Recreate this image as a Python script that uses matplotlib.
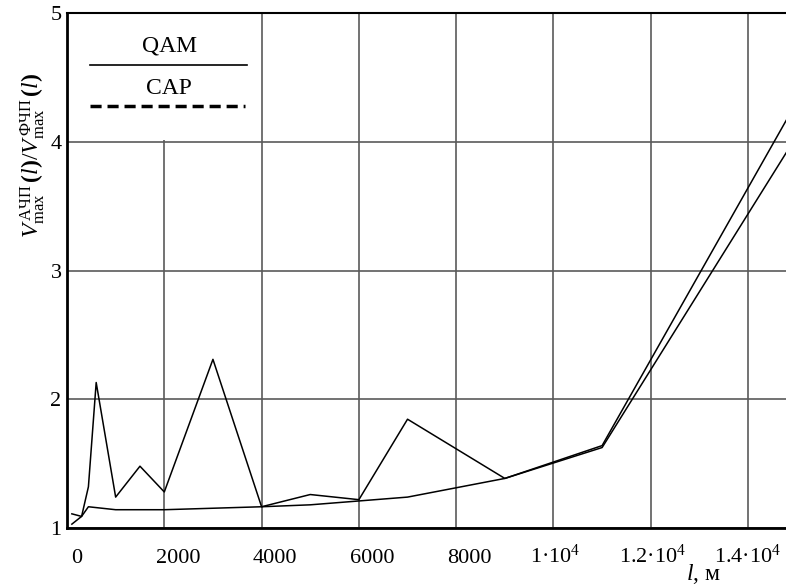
import numpy as np
import matplotlib
matplotlib.use("Agg")
import matplotlib.pyplot as plt
from matplotlib.patches import Rectangle
from matplotlib import transforms

plt.rcParams['font.family'] = ['Liberation Serif', 'DejaVu Serif']
plt.rcParams['mathtext.fontset'] = 'custom'
plt.rcParams['mathtext.rm'] = 'Liberation Serif'
plt.rcParams['mathtext.it'] = 'Liberation Serif:italic'
plt.rcParams['mathtext.bf'] = 'Liberation Serif:bold'

# data (l in metres)
l_qam = [100, 300, 440, 600, 1000, 1500, 2000, 3000, 4000, 5000, 6000, 7000, 9000, 11000, 15000]
r_qam = [1.03, 1.09, 1.32, 2.13, 1.24, 1.48, 1.28, 2.31, 1.165, 1.26, 1.22, 1.845, 1.385, 1.64, 4.31]

l_cap = [100, 300, 440, 1000, 2000, 4000, 5000, 6000, 7000, 9000, 11000, 15000]
r_cap = [1.11, 1.09, 1.165, 1.142, 1.142, 1.165, 1.18, 1.21, 1.24, 1.385, 1.625, 4.045]

x_ticks = [0, 2000, 4000, 6000, 8000, 10000, 12000, 14000]
x_labels = ['0', '2000', '4000', '6000', '8000',
            '1·10$^{4}$', '1.2·10$^{4}$', '1.4·10$^{4}$']
x_label_shift = [10, 14, 13, 13, 13, 2, 2, 0]   # px, Mathcad-style offsets
y_ticks = [1, 2, 3, 4, 5]

fig = plt.figure(figsize=(7.86, 5.85), dpi=100)
ax = fig.add_axes([67 / 786, 1 - 528 / 585, 1 - 67 / 786, (528 - 13) / 585])

ax.plot(l_qam, r_qam, color='black', lw=1.1, zorder=3, clip_on=True)
ax.plot(l_cap, r_cap, color='black', lw=1.1, zorder=3, clip_on=True)

ax.set_xlim(0, 14780)
ax.set_ylim(1, 5)
ax.set_xticks(x_ticks)
ax.set_yticks(y_ticks)
ax.set_xticklabels([])
ax.tick_params(length=0, labelsize=16)
ax.tick_params(axis='y', pad=4)
ax.grid(True, color='#5a5a5a', lw=1.2)
ax.set_axisbelow(True)

for s in ['left', 'bottom']:
    ax.spines[s].set_linewidth(2)
ax.spines['top'].set_linewidth(1.5)
ax.spines['right'].set_visible(False)

# x tick labels placed by hand below the axis
trans = transforms.blended_transform_factory(ax.transData, fig.transFigure)
for xv, lab, dx in zip(x_ticks, x_labels, x_label_shift):
    off = transforms.ScaledTranslation(dx / 100, 0, fig.dpi_scale_trans)
    ax.text(xv, 1 - 563 / 585, lab, transform=trans + off, ha='center',
            va='baseline', fontsize=16)

# legend area (white box hides the grid)
ax.add_patch(Rectangle((0, 4.012), 3750, 1, facecolor='white', edgecolor='none', zorder=1))
ax.text(2097, 4.744, 'QAM', ha='center', va='center', fontsize=17, zorder=4)
ax.plot([473, 3700], [4.597, 4.597], color='black', lw=1.2, zorder=4)
ax.text(2097, 4.41, 'CAP', ha='center', va='center', fontsize=17, zorder=4)
ax.plot([473, 3659], [4.28, 4.28], color='black', lw=2.5, dashes=(3.2, 1.7), zorder=4)

fig.text(703 / 786, 1 - 580 / 585, r'$l$, м', ha='center', va='baseline', fontsize=17)
fig.text(33 / 786, 1 - 155 / 585,
         r'$V^{\,\mathrm{АЧП}}_{\mathrm{max}}\,\mathbf{(}l\mathbf{)}/V^{\,\mathrm{ФЧП}}_{\mathrm{max}}\,\mathbf{(}l\mathbf{)}$',
         rotation=90, ha='center', va='center', fontsize=17)

fig.savefig('out.png', dpi=100)
